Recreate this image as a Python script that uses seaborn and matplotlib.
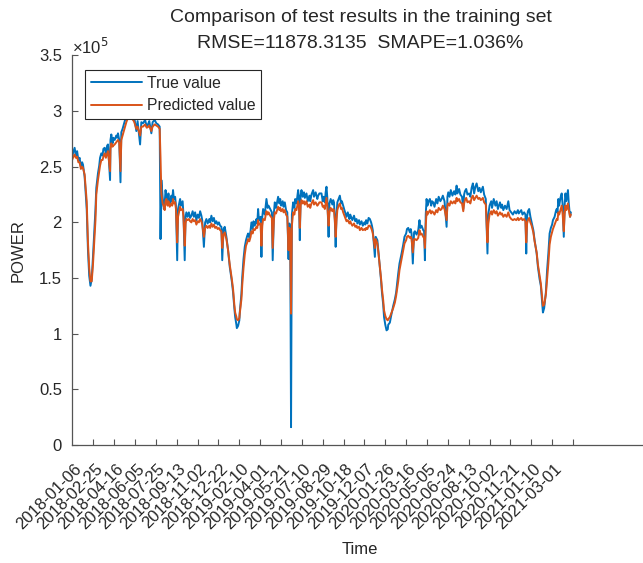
import numpy as np
import seaborn as sns
import matplotlib.pyplot as plt
from matplotlib.transforms import ScaledTranslation

# day offsets from 2018-01-06
days = [
    -51, -49, -45, -42, -39, -36, -33, -30, -27, -25,
    -21, -16, -13, -10, -7, -4, -1, 5, 7, 11,
    14, 16, 19, 22, 24, 27, 30, 33, 35, 40,
    41, 43, 46, 48, 51, 55, 57, 59, 62, 65,
    67, 70, 73, 76, 79, 83, 88, 93, 97, 99,
    103, 106, 112, 115, 119, 124, 128, 132, 134, 139,
    142, 147, 151, 155, 159, 161, 163, 166, 169, 171,
    173, 175, 178, 180, 183, 187, 189, 191, 193, 196,
    198, 201, 203, 208, 210, 214, 216, 219, 221, 223,
    226, 229, 232, 235, 238, 241, 244, 247, 250, 253,
    256, 259, 261, 265, 268, 271, 274, 278, 280, 283,
    286, 289, 292, 295, 298, 301, 304, 307, 309, 312,
    315, 319, 323, 327, 332, 335, 338, 340, 343, 344,
    347, 350, 351, 355, 357, 360, 363, 366, 369, 371,
    374, 377, 379, 382, 384, 387, 391, 393, 395, 397,
    401, 403, 405, 407, 411, 415, 418, 420, 424, 428,
    430, 433, 435, 438, 443, 446, 448, 450, 454, 456,
    459, 462, 465, 468, 470, 472, 474, 476, 479, 482,
    484, 487, 491, 493, 495, 497, 499, 502, 505, 507,
    511, 514, 518, 520, 523, 527, 529, 533, 537, 539,
    542, 547, 550, 552, 555, 557, 559, 561, 564, 566,
    569, 573, 575, 577, 579, 581, 583, 585, 588, 591,
    594, 596, 599, 602, 607, 610, 614, 616, 618, 621,
    625, 628, 631, 633, 637, 639, 643, 646, 650, 652,
    654, 657, 660, 663, 666, 668, 670, 675, 677, 681,
    684, 687, 690, 692, 695, 697, 700, 703, 706, 707,
    711, 714, 719, 723, 726, 731, 734, 739, 743, 746,
    750, 752, 755, 759, 761, 763, 766, 769, 771, 775,
    779, 782, 784, 787, 791, 793, 795, 797, 799, 801,
    804, 807, 810, 812, 815, 818, 822, 825, 828, 832,
    835, 838, 842, 847, 849, 851, 854, 857, 861, 865,
    868, 871, 873, 877, 880, 884, 887, 889, 891, 894,
    897, 901, 904, 907, 910, 913, 916, 919, 923, 926,
    929, 932, 934, 937, 941, 945, 947, 950, 954, 956,
    960, 964, 967, 970, 975, 978, 980, 983, 987, 991,
    995, 998, 1002, 1006, 1010, 1014, 1018, 1020, 1026, 1029,
    1033, 1036, 1038, 1040, 1042, 1045, 1048, 1051, 1055, 1058,
    1063, 1066, 1070, 1073, 1076, 1078, 1081, 1085, 1088, 1091,
    1094, 1097, 1100, 1102, 1106, 1109, 1111, 1113, 1115, 1117,
    1120, 1123, 1125, 1128, 1130, 1132, 1134, 1136, 1138, 1140,
    1143, 1145,
]

# power, in units of 1e5
true_power = [
    2.58, 2.62, 2.67, 2.60, 2.64, 2.56, 2.58, 2.50, 2.54, 2.52,
    2.41, 2.12, 1.75, 1.52, 1.43, 1.49, 1.69, 2.12, 2.31, 2.44,
    2.51, 2.58, 2.62, 2.60, 2.66, 2.67, 2.62, 2.69, 2.70, 2.38,
    2.74, 2.79, 2.71, 2.76, 2.74, 2.78, 2.76, 2.80, 2.74, 2.36,
    2.81, 2.84, 2.88, 2.92, 2.95, 2.99, 2.98, 2.96, 2.94, 2.92,
    2.82, 2.91, 2.70, 2.90, 2.89, 2.92, 2.86, 2.89, 2.91, 2.80,
    2.90, 2.92, 2.89, 2.88, 2.86, 1.85, 2.38, 2.23, 2.12, 2.17,
    2.29, 2.24, 2.19, 2.26, 2.16, 2.24, 2.19, 2.29, 2.21, 2.23,
    2.15, 1.66, 2.12, 2.21, 2.15, 2.19, 2.07, 1.66, 2.05, 2.09,
    2.05, 2.09, 2.04, 2.06, 2.10, 2.05, 2.09, 2.02, 2.07, 2.04,
    2.10, 2.06, 2.02, 1.78, 2.00, 2.03, 1.99, 2.03, 2.00, 2.06,
    2.01, 2.04, 1.99, 2.01, 1.98, 2.00, 1.97, 1.96, 1.66, 1.94,
    1.96, 1.87, 1.75, 1.60, 1.47, 1.37, 1.23, 1.15, 1.08, 1.05,
    1.07, 1.12, 1.19, 1.36, 1.51, 1.67, 1.78, 1.84, 1.88, 1.90,
    1.86, 1.93, 2.00, 1.94, 2.01, 1.97, 2.03, 1.99, 2.12, 2.02,
    2.05, 1.69, 2.05, 2.12, 2.07, 2.21, 2.13, 2.15, 2.12, 2.09,
    1.66, 2.09, 2.18, 2.13, 2.23, 2.17, 2.21, 2.15, 2.19, 2.14,
    2.18, 2.11, 2.09, 1.67, 1.99, 1.92, 0.16, 2.07, 2.18, 2.13,
    2.21, 2.17, 2.29, 2.22, 1.84, 2.24, 2.29, 2.23, 2.27, 2.22,
    2.26, 2.19, 2.24, 2.19, 2.25, 2.29, 2.23, 2.27, 2.21, 2.24,
    2.26, 2.26, 2.19, 2.23, 2.18, 2.27, 2.32, 2.22, 1.87, 2.17,
    2.21, 2.16, 2.20, 2.18, 2.02, 1.78, 2.07, 2.18, 2.21, 2.24,
    2.17, 2.19, 2.15, 2.11, 2.05, 2.09, 2.03, 2.07, 2.05, 2.02,
    2.06, 2.01, 2.03, 1.99, 2.02, 1.98, 2.01, 1.97, 2.00, 1.98,
    2.02, 1.99, 2.04, 2.03, 2.00, 1.97, 1.93, 1.69, 1.87, 1.84,
    1.72, 1.60, 1.47, 1.37, 1.26, 1.15, 1.08, 1.03, 1.04, 1.08,
    1.10, 1.16, 1.25, 1.31, 1.37, 1.54, 1.63, 1.72, 1.80, 1.87,
    1.90, 1.94, 1.95, 1.91, 1.94, 1.90, 1.63, 1.91, 1.92, 1.89,
    1.93, 2.02, 1.95, 1.97, 1.93, 1.92, 1.66, 2.07, 2.21, 2.15,
    2.19, 2.21, 2.15, 2.19, 2.18, 2.14, 2.21, 2.17, 2.23, 2.19,
    2.21, 2.24, 2.19, 1.96, 2.23, 2.27, 2.23, 2.29, 2.24, 2.28,
    2.25, 2.33, 2.26, 2.30, 2.25, 2.23, 2.12, 2.25, 2.28, 2.30,
    2.25, 2.26, 2.23, 2.31, 2.35, 2.26, 2.32, 2.35, 2.28, 2.31,
    2.27, 2.30, 2.32, 2.25, 2.21, 1.72, 2.07, 2.15, 2.19, 2.13,
    2.21, 2.15, 2.19, 2.12, 2.18, 2.13, 2.16, 2.11, 2.15, 2.12,
    2.19, 2.11, 2.09, 2.07, 2.10, 2.08, 2.11, 2.08, 2.11, 2.07,
    2.09, 2.07, 1.72, 2.05, 2.10, 2.12, 2.05, 2.00, 1.93, 1.84,
    1.72, 1.60, 1.49, 1.43, 1.28, 1.19, 1.23, 1.37, 1.57, 1.72,
    1.90, 1.95, 1.98, 2.02, 2.05, 2.10, 2.12, 2.09, 2.21, 2.15,
    2.22, 2.26, 2.17, 1.87, 2.15, 2.26, 2.19, 2.24, 2.29, 2.17,
    2.05, 2.09,
]

pred_power = [
    2.56, 2.58, 2.61, 2.58, 2.59, 2.54, 2.54, 2.48, 2.50, 2.49,
    2.43, 2.19, 1.82, 1.59, 1.47, 1.47, 1.62, 2.02, 2.25, 2.38,
    2.46, 2.51, 2.56, 2.56, 2.59, 2.62, 2.58, 2.62, 2.64, 2.46,
    2.66, 2.71, 2.68, 2.69, 2.70, 2.72, 2.73, 2.74, 2.72, 2.46,
    2.74, 2.78, 2.82, 2.86, 2.90, 2.94, 2.94, 2.93, 2.91, 2.89,
    2.84, 2.86, 2.78, 2.86, 2.86, 2.88, 2.85, 2.86, 2.87, 2.82,
    2.86, 2.88, 2.87, 2.86, 2.84, 2.58, 2.26, 2.17, 2.14, 2.11,
    2.19, 2.21, 2.15, 2.19, 2.14, 2.17, 2.15, 2.21, 2.17, 2.18,
    2.12, 1.82, 2.05, 2.14, 2.11, 2.12, 2.05, 1.79, 1.99, 2.03,
    2.02, 2.03, 2.01, 2.00, 2.03, 2.01, 2.02, 1.98, 2.01, 2.00,
    2.03, 2.01, 1.98, 1.87, 1.95, 1.97, 1.95, 1.97, 1.95, 1.99,
    1.96, 1.98, 1.95, 1.96, 1.94, 1.95, 1.93, 1.92, 1.77, 1.89,
    1.91, 1.85, 1.75, 1.62, 1.49, 1.40, 1.26, 1.19, 1.15, 1.13,
    1.12, 1.14, 1.18, 1.31, 1.44, 1.59, 1.71, 1.79, 1.82, 1.85,
    1.83, 1.87, 1.92, 1.90, 1.94, 1.93, 1.96, 1.95, 2.02, 1.98,
    1.99, 1.79, 1.97, 2.03, 2.02, 2.10, 2.07, 2.09, 2.06, 2.04,
    1.77, 2.03, 2.09, 2.08, 2.14, 2.11, 2.13, 2.10, 2.12, 2.09,
    2.11, 2.07, 2.05, 1.75, 1.95, 1.82, 1.18, 1.97, 2.09, 2.07,
    2.12, 2.11, 2.19, 2.15, 1.95, 2.15, 2.20, 2.17, 2.19, 2.16,
    2.19, 2.14, 2.16, 2.13, 2.17, 2.20, 2.16, 2.18, 2.15, 2.16,
    2.18, 2.18, 2.14, 2.15, 2.12, 2.17, 2.22, 2.15, 1.97, 2.09,
    2.13, 2.10, 2.12, 2.11, 2.02, 1.87, 2.02, 2.11, 2.15, 2.17,
    2.12, 2.13, 2.09, 2.06, 2.01, 2.02, 1.99, 2.01, 1.99, 1.97,
    1.99, 1.96, 1.97, 1.95, 1.96, 1.93, 1.95, 1.93, 1.94, 1.93,
    1.95, 1.94, 1.97, 1.97, 1.95, 1.93, 1.90, 1.77, 1.85, 1.81,
    1.71, 1.60, 1.49, 1.40, 1.30, 1.21, 1.16, 1.13, 1.12, 1.13,
    1.15, 1.18, 1.23, 1.28, 1.34, 1.47, 1.57, 1.67, 1.75, 1.81,
    1.84, 1.87, 1.88, 1.86, 1.87, 1.85, 1.73, 1.85, 1.85, 1.84,
    1.86, 1.93, 1.89, 1.90, 1.87, 1.86, 1.77, 1.97, 2.10, 2.07,
    2.09, 2.11, 2.08, 2.10, 2.09, 2.07, 2.11, 2.09, 2.13, 2.11,
    2.12, 2.15, 2.12, 2.02, 2.15, 2.17, 2.15, 2.19, 2.17, 2.19,
    2.17, 2.22, 2.19, 2.21, 2.18, 2.17, 2.10, 2.17, 2.20, 2.22,
    2.18, 2.19, 2.17, 2.22, 2.24, 2.20, 2.22, 2.24, 2.21, 2.22,
    2.20, 2.21, 2.22, 2.18, 2.16, 1.82, 1.99, 2.07, 2.10, 2.07,
    2.11, 2.08, 2.10, 2.06, 2.09, 2.07, 2.08, 2.05, 2.07, 2.05,
    2.09, 2.05, 2.03, 2.02, 2.03, 2.02, 2.04, 2.02, 2.04, 2.02,
    2.03, 2.01, 1.82, 1.99, 2.02, 2.04, 2.00, 1.97, 1.91, 1.83,
    1.73, 1.62, 1.52, 1.45, 1.33, 1.25, 1.26, 1.35, 1.49, 1.63,
    1.80, 1.87, 1.91, 1.94, 1.98, 2.01, 2.03, 2.02, 2.09, 2.07,
    2.11, 2.15, 2.09, 1.92, 2.07, 2.15, 2.11, 2.14, 2.17, 2.11,
    2.05, 2.07,
]

assert len(days) == len(true_power) == len(pred_power)

tick_days = list(range(0, 1151, 50))
tick_dates = [
    "2018-01-06", "2018-02-25", "2018-04-16", "2018-06-05", "2018-07-25",
    "2018-09-13", "2018-11-02", "2018-12-22", "2019-02-10", "2019-04-01",
    "2019-05-21", "2019-07-10", "2019-08-29", "2019-10-18", "2019-12-07",
    "2020-01-26", "2020-03-16", "2020-05-05", "2020-06-24", "2020-08-13",
    "2020-10-02", "2020-11-21", "2021-01-10", "2021-03-01",
]
y_ticks = [0, 0.5, 1, 1.5, 2, 2.5, 3, 3.5]
y_labels = ["0", "0.5", "1", "1.5", "2", "2.5", "3", "3.5"]

sns.set_theme(style="ticks")
plt.rcParams["font.family"] = ["Liberation Sans", "DejaVu Sans"]
text_col = "#262626"
axis_col = "#555555"

fig = plt.figure(figsize=(6.43, 5.63), dpi=100)
ax = fig.add_axes([0.1115, 0.2096, 0.8963, 0.692])

sns.lineplot(x=days, y=true_power, ax=ax, color="#0072BD", linewidth=1.4,
             errorbar=None, label="True value")
sns.lineplot(x=days, y=pred_power, ax=ax, color="#D95319", linewidth=1.4,
             errorbar=None, label="Predicted value")

ax.set_xlim(-52, 1330)
ax.set_ylim(0, 3.5)
ax.tick_params(axis="both", direction="in", length=4, width=0.8, color=axis_col)
ax.tick_params(axis="y", pad=7)

ax.set_yticks(y_ticks)
ax.set_yticklabels(y_labels, fontsize=12, color=text_col)
ax.set_xticks(tick_days)
ax.set_xticklabels(tick_dates, rotation=45, ha="right", rotation_mode="anchor",
                   fontsize=12, color=text_col)

# MATLAB-style placement of the rotated labels (after tick_params, which resets transforms)
shift = ScaledTranslation(-19.5 / 100, -11 / 100, fig.dpi_scale_trans)
for lbl in ax.get_xticklabels():
    lbl.set_transform(lbl.get_transform() + shift)

sns.despine(ax=ax)
for side in ["left", "bottom"]:
    ax.spines[side].set_color(axis_col)
    ax.spines[side].set_linewidth(0.9)

ax.set_xlabel("Time", fontsize=12, color=text_col)
ax.set_ylabel("POWER", fontsize=12, color=text_col)
ax.xaxis.set_label_coords(0.5, -0.249)
ax.yaxis.set_label_coords(-0.0793, 0.5)

leg = ax.legend(loc="upper left", bbox_to_anchor=(0.0231, 0.9625), borderaxespad=0,
                fontsize=11.3, handlelength=3.3, handletextpad=0.3, borderpad=0.35,
                labelspacing=0.5, frameon=True, fancybox=False,
                edgecolor=text_col, framealpha=1)
leg.get_frame().set_linewidth(0.8)
for t in leg.get_texts():
    t.set_color(text_col)

fig.text(0.5607, 0.9698, "Comparison of test results in the training set",
         ha="center", va="center", fontsize=14, color=text_col)
fig.text(0.5607, 0.9236, "RMSE=11878.3135  SMAPE=1.036%",
         ha="center", va="center", fontsize=14, color=text_col)
fig.text(72 / 643, 1 - 47 / 563, r"×10$^{5}$", ha="left", va="center",
         fontsize=12, color=text_col)

fig.savefig("out.png", dpi=100)
